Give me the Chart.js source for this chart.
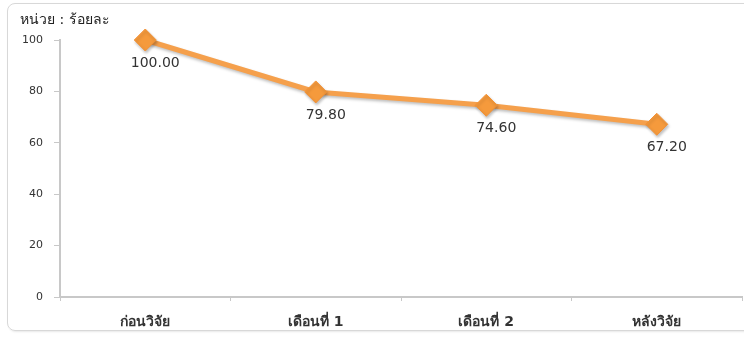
<!DOCTYPE html>
<html>
<head>
<meta charset="utf-8">
<script src="https://cdn.jsdelivr.net/npm/chart.js@4"></script>
<style>
    body { margin: 0; background: #fff; }
    #wrap { position: relative; width: 744px; height: 339px; overflow: hidden; }
    #frame {
        position: absolute; left: 7px; top: 3px; width: 780px; height: 326px;
        border: 1px solid #d8d8d8; border-radius: 8px; box-shadow: 1px 1px 2px #e8e8e8;
    }
    #myChart { position: absolute; left: 0; top: 0; }
</style>
</head>
<body>
<div id="wrap">
    <div id="frame"></div>
    <canvas id="myChart" width="744" height="339"></canvas>
</div>
<script>
const categories = ['ก่อนวิจัย', 'เดือนที่ 1', 'เดือนที่ 2', 'หลังวิจัย'];
const values = [100.00, 79.80, 74.60, 67.20];
const yTicks = [0, 20, 40, 60, 80, 100];
const unitLabel = 'หน่วย : ร้อยละ';

const fontFamily = "Tahoma, 'DejaVu Sans', 'Noto Sans', sans-serif";

// labels under each point, like the excel "below" option
const valueLabels = {
    id: 'valueLabels',
    afterDatasetsDraw(chart) {
        const ctx = chart.ctx;
        const meta = chart.getDatasetMeta(0);
        ctx.save();
        ctx.font = "14px 'DejaVu Sans', sans-serif";
        ctx.fillStyle = '#333';
        ctx.textAlign = 'center';
        ctx.textBaseline = 'middle';
        meta.data.forEach((pt, i) => {
            ctx.fillText(values[i].toFixed(2), pt.x + 10, pt.y + 23);
        });
        ctx.restore();
    }
};

// soft shadow under line and markers
const shadow = {
    id: 'shadow',
    beforeDatasetDraw(chart) {
        const ctx = chart.ctx;
        ctx.save();
        ctx.shadowColor = 'rgba(0,0,0,0.25)';
        ctx.shadowBlur = 3;
        ctx.shadowOffsetX = 1;
        ctx.shadowOffsetY = 2;
    },
    afterDatasetDraw(chart) {
        chart.ctx.restore();
    }
};

const data = {
    labels: categories,
    datasets: [{
        data: values,
        borderColor: '#f5a04c',
        borderWidth: 5,
        backgroundColor: '#f59a3c',
        pointStyle: 'rectRot',
        pointRadius: 11,
        pointHoverRadius: 11,
        pointBorderColor: '#f39236',
        pointBorderWidth: 1,
        tension: 0,
        clip: false
    }]
};

const config = {
    type: 'line',
    data: data,
    plugins: [shadow, valueLabels],
    options: {
        responsive: false,
        animation: false,
        layout: { autoPadding: false, padding: { left: 20, right: 2, bottom: 0 } },
        plugins: {
            legend: { display: false },
            tooltip: { enabled: false },
            title: {
                display: true,
                text: unitLabel,
                align: 'start',
                color: '#222',
                font: { family: fontFamily, size: 14, weight: 'normal' },
                padding: { top: 12, bottom: 11.2 }
            }
        },
        scales: {
            x: {
                offset: true,
                afterFit(scale) {
                    scale.height = 42;
                    scale.paddingLeft = 0;
                    scale.paddingRight = 0;
                },
                grid: {
                    offset: true,
                    drawOnChartArea: false,
                    color: '#c8c8c8',
                    tickLength: 4
                },
                border: { color: '#c8c8c8', width: 2 },
                ticks: {
                    color: '#333',
                    font: { family: fontFamily, size: 14, weight: 'bold' },
                    padding: 13
                }
            },
            y: {
                min: 0,
                max: 100,
                afterFit(scale) { scale.width = 40; },
                afterBuildTicks(scale) {
                    scale.ticks = yTicks.map(v => ({ value: v }));
                },
                grid: {
                    drawOnChartArea: false,
                    color: '#c8c8c8',
                    tickLength: 6
                },
                border: { color: '#c8c8c8', width: 2 },
                ticks: {
                    color: '#333',
                    font: { family: "'DejaVu Sans', sans-serif", size: 11 },
                    padding: 11
                }
            }
        }
    }
};

const myChart = new Chart(
    document.getElementById('myChart'),
    config
);
</script>
</body>
</html>
